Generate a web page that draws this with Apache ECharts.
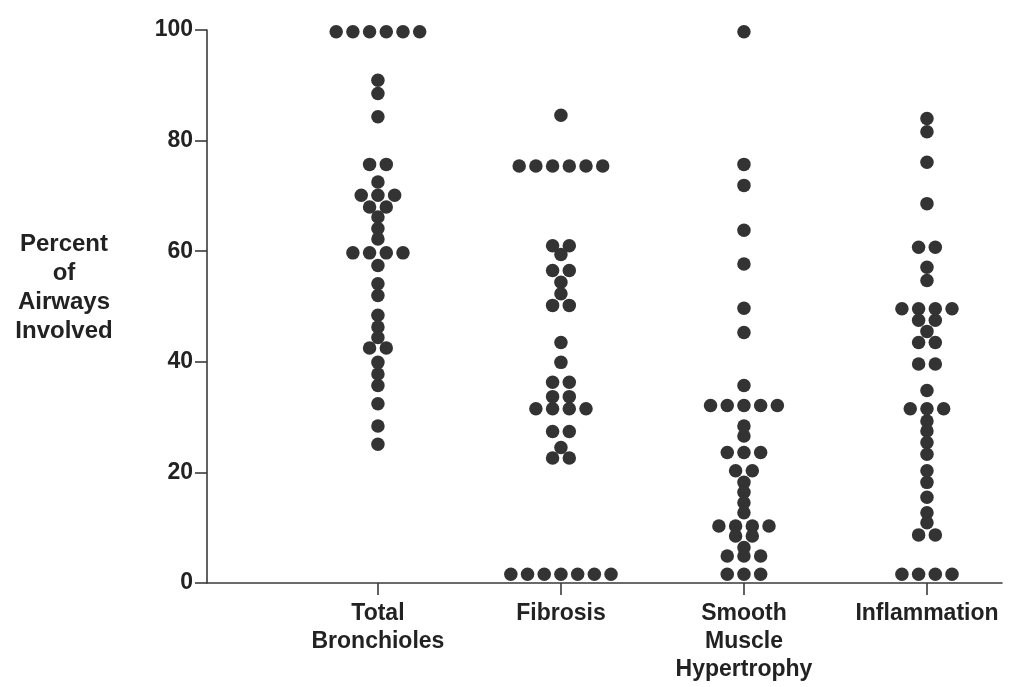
<!DOCTYPE html>
<html>
<head>
<meta charset="utf-8">
<script src="https://cdn.jsdelivr.net/npm/echarts@6/dist/echarts.min.js"></script>
<style>
html,body{margin:0;padding:0;background:#fff;}
#chart{width:1012px;height:687px;}
</style>
</head>
<body>
<div id="chart"></div>
<script>
// ---- data ----
const categories = ['Total\nBronchioles', 'Fibrosis', 'Smooth\nMuscle\nHypertrophy', 'Inflammation'];
const yTicks = [0, 20, 40, 60, 80, 100];
const yTitleLines = ['Percent', 'of', 'Airways', 'Involved'];

const totalBronchioles = [
  99.7, 99.7, 99.7, 99.7, 99.7, 99.7,
  90.9, 88.5, 84.3, 75.7, 75.7, 72.5,
  70.1, 70.1, 70.1, 68.0, 68.0, 66.2, 64.1, 62.2,
  59.7, 59.7, 59.7, 59.7, 57.4, 54.1, 52.0,
  48.4, 46.3, 44.4, 42.5, 42.5, 39.9, 37.8, 35.7, 32.4, 28.4, 25.1
];
const fibrosis = [
  84.6, 75.4, 75.4, 75.4, 75.4, 75.4, 75.4,
  61.0, 61.0, 59.4, 56.5, 56.5, 54.4, 52.3, 50.2, 50.2,
  43.5, 39.9, 36.3, 36.3, 33.7, 33.7, 31.5, 31.5, 31.5, 31.5,
  27.4, 27.4, 24.5, 22.6, 22.6,
  1.6, 1.6, 1.6, 1.6, 1.6, 1.6, 1.6
];
const smoothMuscle = [
  99.7, 75.7, 71.9, 63.8, 57.7, 49.7, 45.3, 35.7,
  32.1, 32.1, 32.1, 32.1, 32.1, 28.4, 26.6,
  23.6, 23.6, 23.6, 20.3, 20.3, 18.2, 16.4, 14.5, 12.7,
  10.3, 10.3, 10.3, 10.3, 8.5, 8.5, 6.4, 4.9, 4.9, 4.9,
  1.6, 1.6, 1.6
];
const inflammation = [
  84.0, 81.6, 76.1, 68.6, 60.7, 60.7, 57.1, 54.7,
  49.6, 49.6, 49.6, 49.6, 47.5, 47.5, 45.5, 43.5, 43.5, 39.6, 39.6,
  34.8, 31.5, 31.5, 31.5, 29.3, 27.5, 25.4, 23.3,
  20.3, 18.2, 15.5, 12.7, 10.9, 8.7, 8.7,
  1.6, 1.6, 1.6, 1.6
];
const groups = [totalBronchioles, fibrosis, smoothMuscle, inflammation];

// ---- layout / style ----
const W = 1012, H = 687;
const GRID = { left: 207, right: 10, top: 30, bottom: 104 };
const X_MIN = 0.066, X_MAX = 4.41;
const DOT_SPACING_PX = 16.7;
const pxPerUnit = (W - GRID.left - GRID.right) / (X_MAX - X_MIN);
const STEP = DOT_SPACING_PX / pxPerUnit;
const INK = '#222222';
const DOT = '#333333';
const FONT = 'Liberation Sans, Arial, Helvetica, sans-serif';

// beeswarm: equal values in a group are spread symmetrically round the category centre
function swarm(values, pos) {
  const counts = {};
  values.forEach(v => { counts[v] = (counts[v] || 0) + 1; });
  const seen = {};
  return values.map(v => {
    const i = seen[v] = (seen[v] === undefined ? 0 : seen[v] + 1);
    const n = counts[v];
    return [pos + (i - (n - 1) / 2) * STEP, v];
  });
}

const chart = echarts.init(document.getElementById('chart'), null, { renderer: 'canvas', width: W, height: H });
const catPositions = categories.map((c, i) => i + 1);
// title lines plus an empty spacer line that lifts the block above the axis middle
const yTitle = yTitleLines.map(s => '{t|' + s + '}').join('\n') + '\n{g| }';

chart.setOption({
  animation: false,
  backgroundColor: '#ffffff',
  grid: { left: GRID.left, right: GRID.right, top: GRID.top, bottom: GRID.bottom, containLabel: false, outerBoundsMode: 'none' },
  xAxis: {
    type: 'value',
    min: X_MIN,
    max: X_MAX,
    splitLine: { show: false },
    axisLine: { show: true, onZero: false, lineStyle: { color: '#3a3a3a', width: 1.6 } },
    axisTick: { show: true, customValues: catPositions, length: 12, lineStyle: { color: '#3a3a3a', width: 1.6 } },
    axisLabel: {
      show: true,
      customValues: catPositions,
      formatter: v => categories[Math.round(v) - 1] || '',
      margin: 17,
      color: INK,
      fontFamily: FONT,
      fontWeight: 'bold',
      fontSize: 23,
      lineHeight: 28,
      align: 'center'
    }
  },
  yAxis: {
    type: 'value',
    min: 0,
    max: 100,
    interval: 20,
    splitLine: { show: false },
    axisLine: { show: true, lineStyle: { color: '#3a3a3a', width: 1.6 } },
    axisTick: { show: true, length: 12, lineStyle: { color: '#3a3a3a', width: 1.6 } },
    axisLabel: {
      margin: 14,
      color: INK,
      fontFamily: FONT,
      fontWeight: 'bold',
      fontSize: 23,
      formatter: v => (yTicks.indexOf(v) >= 0 ? String(v) : '')
    },
    name: yTitle,
    nameLocation: 'middle',
    nameRotate: 0,
    nameGap: 143,
    nameTextStyle: {
      color: INK,
      fontFamily: FONT,
      fontWeight: 'bold',
      fontSize: 24,
      lineHeight: 29,
      align: 'center',
      verticalAlign: 'middle',
      rich: {
        t: { color: INK, fontFamily: FONT, fontWeight: 'bold', fontSize: 24, lineHeight: 29, align: 'center' },
        g: { fontSize: 10, lineHeight: 38 }
      }
    }
  },
  series: groups.map((g, i) => ({
    type: 'scatter',
    name: categories[i].replace(/\n/g, ' '),
    symbol: 'circle',
    symbolSize: 13.5,
    itemStyle: { color: DOT, opacity: 1 },
    data: swarm(g, i + 1)
  }))
});
</script>
</body>
</html>
